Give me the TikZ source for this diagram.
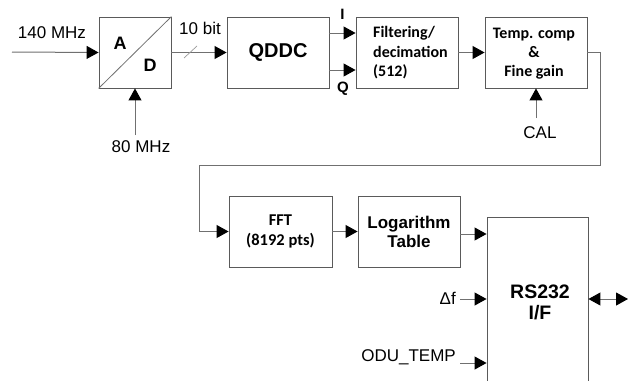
\documentclass[tikz,border=0pt]{standalone}
\usepackage{fontspec}
\setmainfont{Liberation Sans}
\newfontfamily\calfont{Carlito}
\usetikzlibrary{arrows.meta}
\definecolor{boxgray}{HTML}{5A5A5A}
\definecolor{linegray}{HTML}{707070}
\tikzset{
  blk/.style={draw=boxgray, line width=0.9pt, rectangle, minimum height=71pt, inner sep=0pt, align=center},
  conn/.style={draw=linegray, line width=1pt, -{Triangle[length=12pt,width=13pt,black]}},
  lbl/.style={font=\fontsize{17}{19}\selectfont, inner sep=0pt},
}
\begin{document}
\begin{tikzpicture}[x=1pt,y=-1pt]
\clip (0,0) rectangle (636,380);
\useasboundingbox (0,0) rectangle (636,380);
\fill[white] (0,0) rectangle (636,380);
% blocks
\node[blk, minimum width=72pt] (AD) at (135,52.5) {};
\draw[linegray, line width=0.8pt] (AD.south west) -- (AD.north east);
\node[font=\bfseries\fontsize{18}{20}\selectfont] (A) at (120,43) {A};
\node[font=\bfseries\fontsize{18}{20}\selectfont] (D) at (150,65) {D};
\node[blk, minimum width=102pt, font=\bfseries\fontsize{20}{22}\selectfont] (QDDC) at (278,52.5) {QDDC};
\node[blk, minimum width=102pt] (Filt) at (407,52.5) {};
\node[anchor=west, align=left, inner sep=0pt, font=\calfont\bfseries\fontsize{16}{19.5}\selectfont] (FiltT) at (373,53) {Filtering/\\decimation\\(512)};
\node[blk, minimum width=102pt] (Temp) at (536,52.5) {};
\node[align=center, inner sep=0pt, font=\calfont\bfseries\fontsize{16}{19}\selectfont] (TempT) at (534,54) {Temp. comp\\\&\\ Fine gain};
\node[blk, minimum width=103pt, font=\calfont\bfseries\fontsize{16.5}{20}\selectfont] (FFT) at (280.5,231.5) {FFT\\(8192 pts)};
\node[blk, minimum width=102pt, font=\bfseries\fontsize{17}{19}\selectfont] (Log) at (409,231.5) {Logarithm\\Table};
\node[blk, minimum width=101pt, minimum height=203pt] (RS) at (537.5,318.5) {};
\node[align=center, inner sep=0pt, font=\bfseries\fontsize{19.5}{21}\selectfont] (RST) at (540,302) {RS232\\I/F};
% inputs
\coordinate (in140) at (12,52);
\draw[conn] (in140) -- (AD.west);
\node[lbl] (l140) at (52,33) {140 MHz};
\coordinate (in80) at (135,135);
\draw[conn] (in80) -- (AD.south);
\node[lbl] (l80) at (141,147) {80 MHz};
\draw[conn] (AD.east) -- (QDDC.west);
\node[lbl] (l10) at (200,28) {10 bit};
\draw[linegray!70, line width=0.7pt] (184,58) -- (197,46);
% I/Q
\coordinate (Iout) at (329,33);
\coordinate (Qout) at (329,70);
\draw[conn] (Iout) -- (Iout -| Filt.west);
\draw[conn] (Qout) -- (Qout -| Filt.west);
\node[font=\bfseries\fontsize{15}{17}\selectfont, inner sep=0pt] (Ilbl) at (342.5,14.5) {I};
\node[font=\bfseries\fontsize{15}{17}\selectfont, inner sep=0pt] (Qlbl) at (343,89) {Q};
\draw[conn] (Filt.east) -- (Temp.west);
% CAL
\coordinate (cal) at (536,118);
\draw[conn] (cal) -- (Temp.south);
\node[lbl] (lcal) at (540,133) {CAL};
% loop to FFT
\coordinate (c1) at (600,52.5);
\coordinate (c2) at (600,165);
\coordinate (c3) at (199,165);
\coordinate (c4) at (199,231.5);
\draw[conn] (Temp.east) -- (c1) -- (c2) -- (c3) -- (c4) -- (FFT.west);
\draw[conn] (FFT.east) -- (Log.west);
\coordinate (logout) at (460,234);
\draw[conn] (logout) -- (logout -| RS.west);
% df and ODU
\coordinate (df) at (460,299);
\draw[conn] (df) -- (df -| RS.west);
\node[lbl, anchor=east] (ldf) at (456,298) {Δf};
\coordinate (odu) at (460,363);
\draw[conn] (odu) -- (odu -| RS.west);
\node[lbl, anchor=east] (lodu) at (456,357) {ODU\_TEMP};
% bidirectional
\coordinate (bio) at (628,299);
\draw[draw=linegray, line width=1pt, {Triangle[length=12pt,width=13pt,black]}-{Triangle[length=12pt,width=13pt,black]}] (RS.east |- bio) -- (bio);
\end{tikzpicture}
\end{document}
